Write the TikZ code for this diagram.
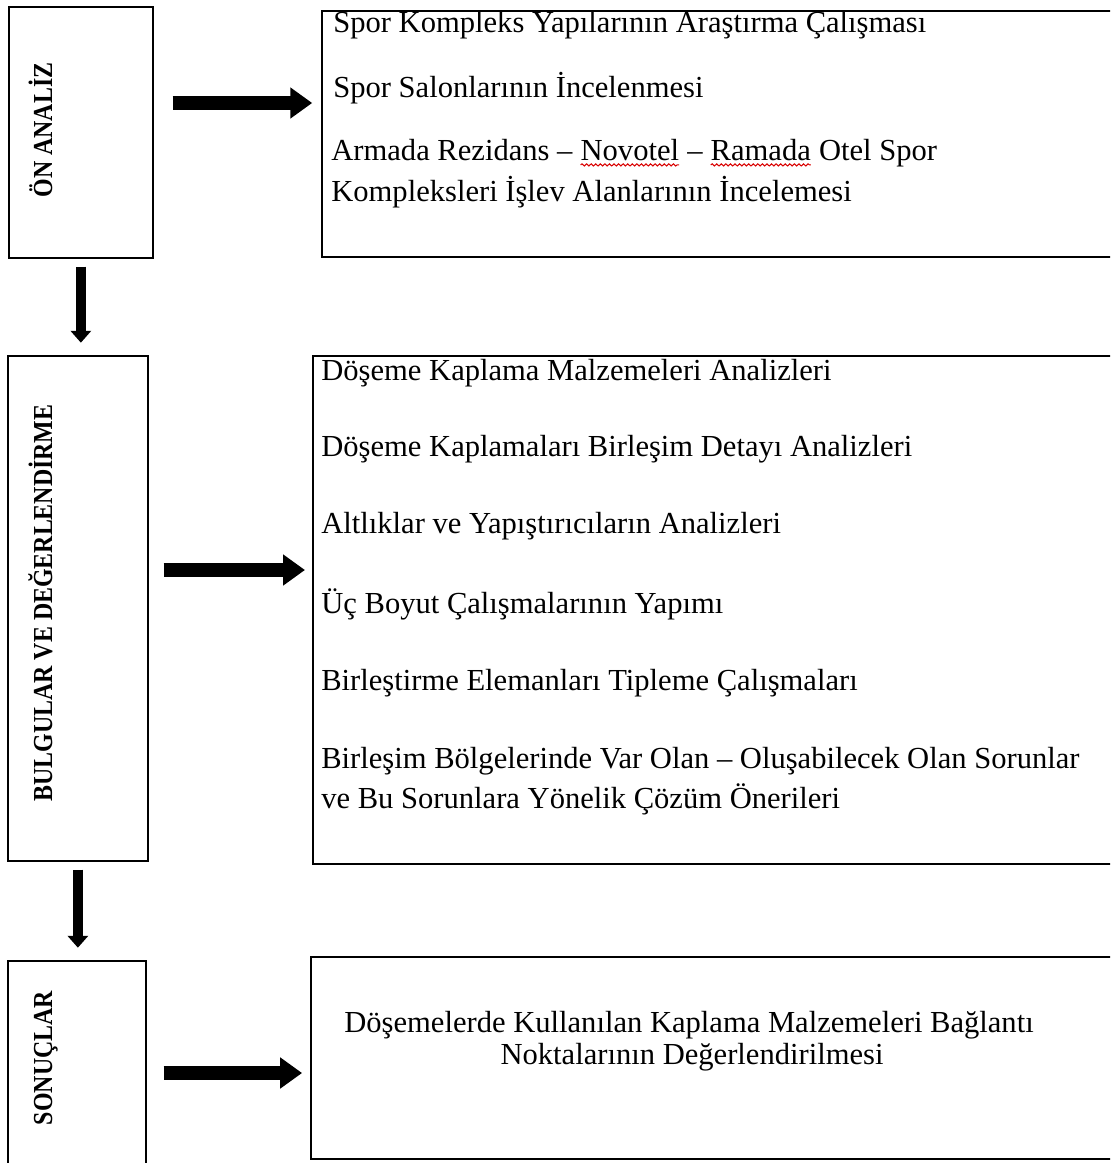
\documentclass[tikz,border=0pt]{standalone}
\usepackage{fontspec}
\setmainfont{Liberation Serif}
\usetikzlibrary{arrows.meta, decorations.pathmorphing}

\newcommand{\spellwave}[1]{\tikz[baseline=(w.base)]{\node[inner sep=0pt, outer sep=0pt] (w) {#1};
  \draw[red!85!black, line width=0.6pt, decorate, decoration={snake, amplitude=0.6pt, segment length=2.6pt}]
    ([yshift=-2.8pt]w.base west) -- ([yshift=-2.8pt]w.base east);}}

\begin{document}
\begin{tikzpicture}[x=0.02cm, y=-0.02cm,
    frame/.style={draw, line width=1pt, rectangle, inner sep=0pt, anchor=north west},
    stage/.style={font=\fontsize{13.6}{16}\selectfont\bfseries, rotate=90, yscale=1.15, anchor=base, inner sep=0pt},
    item/.style={font=\fontsize{17.4}{20}\selectfont, anchor=base west, inner sep=0pt},
    itemc/.style={item, anchor=base},
    bigarrow/.style={line width=8.5pt, -{Triangle[length=12.5pt, width=17pt]}},
    downarrow/.style={line width=5.7pt, -{Triangle[length=6.8pt, width=11.5pt]}}]

    \path[use as bounding box, clip] (0,0) rectangle (1110,1163);

    \coordinate (h1) at (0,103);
    \coordinate (h2) at (0,570);
    \coordinate (h3) at (0,1073);

    \node[frame, minimum width=144*0.02cm, minimum height=251*0.02cm] (onanaliz) at (8,6) {};
    \node[frame, minimum width=140*0.02cm, minimum height=505*0.02cm] (bulgular) at (7,355) {};
    \node[frame, minimum width=138*0.02cm, minimum height=230*0.02cm] (sonuclar) at (7,960) {};

    \node[frame, minimum width=820*0.02cm, minimum height=246*0.02cm] (kutu1) at (321,10) {};
    \node[frame, minimum width=830*0.02cm, minimum height=508*0.02cm] (kutu2) at (312,355) {};
    \node[frame, minimum width=830*0.02cm, minimum height=202*0.02cm] (kutu3) at (310,956) {};

    \node[stage] (lbl1) at (52,130) {ÖN ANALİZ};
    \node[stage] (lbl2) at (52,603) {BULGULAR VE DEĞERLENDİRME};
    \node[stage] (lbl3) at (52,1058) {SONUÇLAR};

    \node[item] (a1) at (333,32) {Spor Kompleks Yapılarının Araştırma Çalışması};
    \node[item] (a2) at (333,97) {Spor Salonlarının İncelenmesi};
    \node[item] (a3) at (331,160) {Armada Rezidans – \spellwave{Novotel} – \spellwave{Ramada} Otel Spor};
    \node[item] (a4) at (331,201) {Kompleksleri İşlev Alanlarının İncelemesi};

    \node[item] (b1) at (321,380) {Döşeme Kaplama Malzemeleri Analizleri};
    \node[item] (b2) at (321,456) {Döşeme Kaplamaları Birleşim Detayı Analizleri};
    \node[item] (b3) at (321,533) {Altlıklar ve Yapıştırıcıların Analizleri};
    \node[item] (b4) at (321,613) {Üç Boyut Çalışmalarının Yapımı};
    \node[item] (b5) at (321,690) {Birleştirme Elemanları Tipleme Çalışmaları};
    \node[item] (b6) at (321,768) {Birleşim Bölgelerinde Var Olan – Oluşabilecek Olan Sorunlar};
    \node[item] (b7) at (321,808) {ve Bu Sorunlara Yönelik Çözüm Önerileri};

    \node[itemc] (c1) at (689,1032) {Döşemelerde Kullanılan Kaplama Malzemeleri Bağlantı};
    \node[itemc] (c2) at (692,1064) {Noktalarının Değerlendirilmesi};

    \draw[bigarrow, shorten <=10.8pt, shorten >=5pt] (onanaliz.east |- h1) -- (kutu1.west |- h1);
    \draw[bigarrow, shorten <=8.5pt, shorten >=4pt] (bulgular.east |- h2) -- (kutu2.west |- h2);
    \draw[bigarrow, shorten <=9.6pt, shorten >=4.5pt] (sonuclar.east |- h3) -- (kutu3.west |- h3);

    \draw[downarrow, shorten <=4.5pt, shorten >=7pt] (onanaliz.south) -- (onanaliz.south |- bulgular.north);
    \draw[downarrow, shorten <=4.5pt, shorten >=7pt] (bulgular.south) -- (bulgular.south |- sonuclar.north);

\end{tikzpicture}
\end{document}
